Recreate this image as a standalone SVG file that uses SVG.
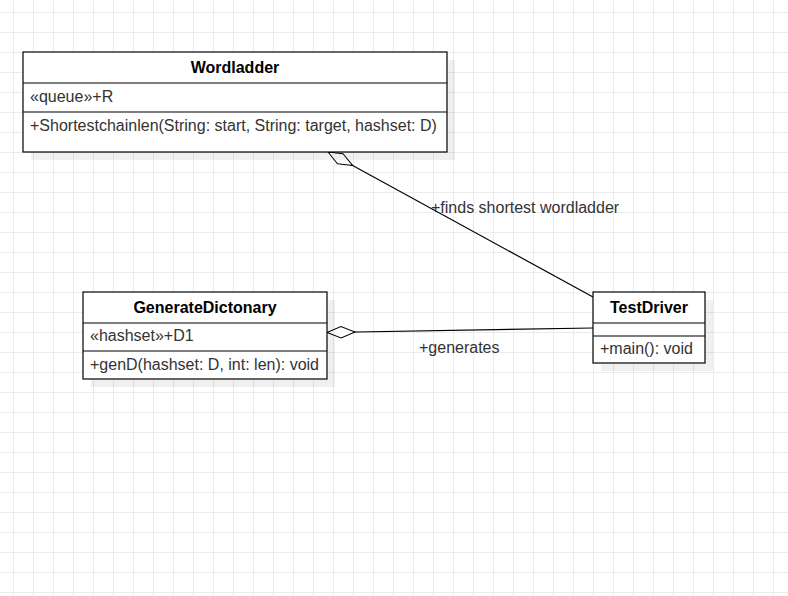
<svg xmlns="http://www.w3.org/2000/svg" width="788" height="596" viewBox="0 0 788 596">
  <defs>
    <pattern id="grid" x="13" y="12" width="20" height="20" patternUnits="userSpaceOnUse">
      <path d="M0.5 0V20M0 0.5H20" fill="none" stroke="#ebebeb" stroke-width="1"/>
    </pattern>
    <marker id="odiamond" markerUnits="userSpaceOnUse" viewBox="0 0 28 12" markerWidth="28" markerHeight="12" refX="28" refY="6" orient="auto" overflow="visible">
      <path d="M0 6 L14 0.3 L28 6 L14 11.7 Z" fill="#ffffff" stroke="#000000" stroke-width="1"/>
    </marker>
    <style>
      .shadow { fill: #000000; fill-opacity: 0.06; stroke: none; }
      .box { fill: #ffffff; stroke: #000000; stroke-width: 1.2; }
      .sep { stroke: #000000; stroke-width: 1.2; fill: none; }
      .title { font-family: "Liberation Sans", Arial, sans-serif; font-size: 16px; font-weight: bold; fill: #000000; text-anchor: middle; }
      .member { font-family: "Liberation Sans", Arial, sans-serif; font-size: 16px; fill: #333333; }
      .label { font-family: "Liberation Sans", Arial, sans-serif; font-size: 16px; fill: #333333; }
      .edge { fill: none; stroke: #000000; stroke-width: 1.2; }
    </style>
  </defs>
  <rect x="0" y="0" width="788" height="596" fill="#ffffff"/>
  <rect x="0" y="0" width="788" height="596" fill="url(#grid)"/>

  <g id="connectors">
    <path class="edge" d="M593 297 L328 152" marker-end="url(#odiamond)"/>
    <path class="edge" d="M593 328 L327 332.5" marker-end="url(#odiamond)"/>
    <text class="label" x="431" y="213">+finds shortest wordladder</text>
    <text class="label" x="419" y="353">+generates</text>
  </g>

  <g id="Wordladder">
    <rect class="shadow" x="31" y="60" width="424" height="100"/>
    <rect class="box" x="23" y="52" width="424" height="100"/>
    <path class="sep" d="M23 83H447M23 112H447"/>
    <text class="title" x="235" y="73">Wordladder</text>
    <text class="member" x="30" y="102">«queue»+R</text>
    <text class="member" x="30" y="131">+Shortestchainlen(String: start, String: target, hashset: D)</text>
  </g>

  <g id="GenerateDictonary">
    <rect class="shadow" x="91" y="300" width="244" height="87"/>
    <rect class="box" x="83" y="292" width="244" height="87"/>
    <path class="sep" d="M83 323H327M83 351H327"/>
    <text class="title" x="205" y="313">GenerateDictonary</text>
    <text class="member" x="90" y="341">«hashset»+D1</text>
    <text class="member" x="90" y="370">+genD(hashset: D, int: len): void</text>
  </g>

  <g id="TestDriver">
    <rect class="shadow" x="601" y="300" width="112" height="71"/>
    <rect class="box" x="593" y="292" width="112" height="71"/>
    <path class="sep" d="M593 323H705M593 336H705"/>
    <text class="title" x="649" y="313">TestDriver</text>
    <text class="member" x="600" y="354">+main(): void</text>
  </g>
</svg>
